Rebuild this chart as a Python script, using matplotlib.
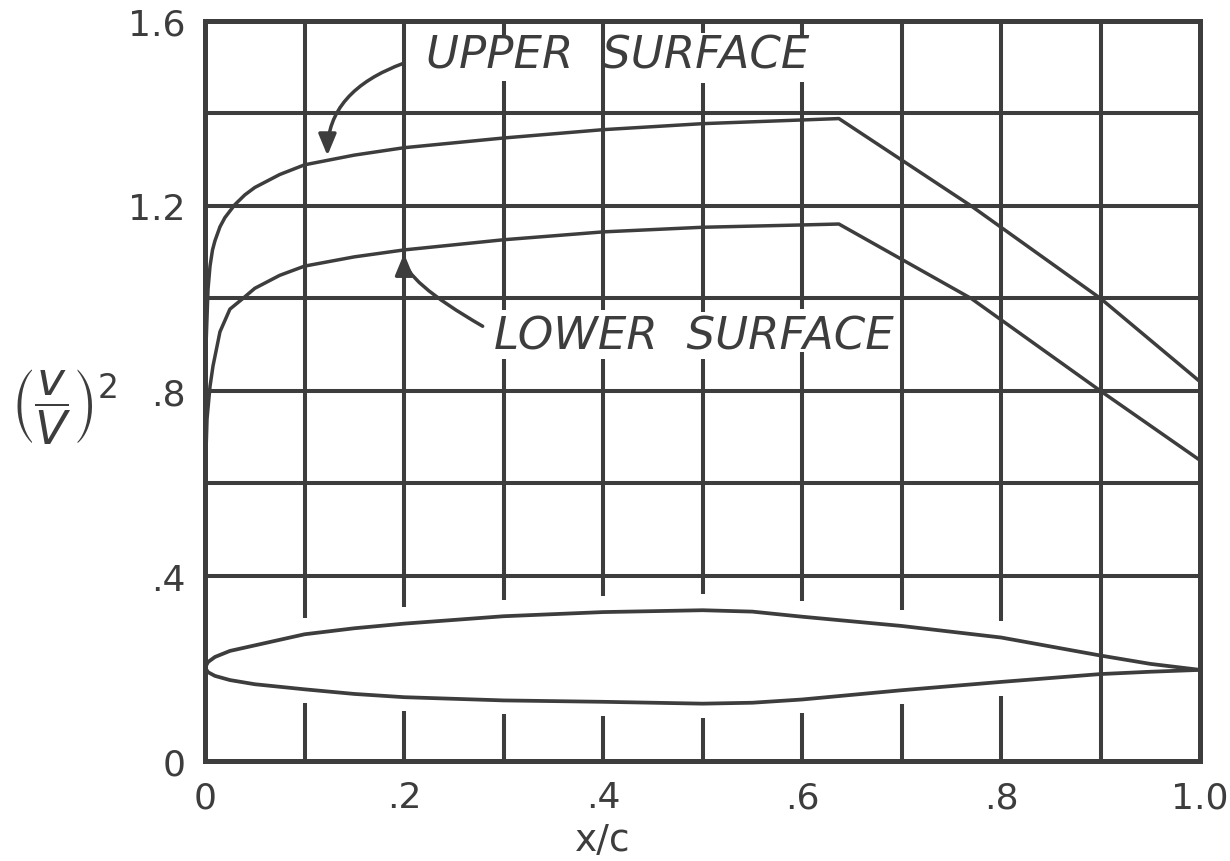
import numpy as np
import matplotlib
matplotlib.use("Agg")
import matplotlib.pyplot as plt

INK = "#3d3d3d"

# airfoil outline (drawn at the bottom of the chart)
foil_x = [0, 0.003, 0.01, 0.025, 0.05, 0.1, 0.15, 0.2, 0.3, 0.4, 0.5, 0.55, 0.6, 0.7, 0.8, 0.9, 0.95, 1.0]
foil_upper = [0.202, 0.214, 0.225, 0.238, 0.250, 0.274, 0.287, 0.297, 0.313, 0.322, 0.326, 0.323,
              0.312, 0.292, 0.267, 0.228, 0.210, 0.197]
foil_lower = [0.202, 0.192, 0.184, 0.175, 0.166, 0.155, 0.145, 0.138, 0.131, 0.128, 0.124, 0.126,
              0.133, 0.153, 0.171, 0.188, 0.193, 0.197]

# (v/V)^2 distributions
up_x = [0, 0.001, 0.003, 0.005, 0.0075, 0.01, 0.015, 0.02, 0.03, 0.04, 0.05, 0.075, 0.1, 0.15,
        0.2, 0.3, 0.4, 0.5, 0.6, 0.637, 0.77, 0.9, 1.0]
up_v = [0.60, 0.90, 1.02, 1.07, 1.105, 1.125, 1.155, 1.175, 1.203, 1.224, 1.240, 1.268, 1.289,
        1.310, 1.326, 1.347, 1.365, 1.378, 1.386, 1.389, 1.200, 1.000, 0.820]
lo_x = [0, 0.002, 0.005, 0.008, 0.015, 0.025, 0.038, 0.05, 0.075, 0.1, 0.15, 0.2, 0.3, 0.4,
        0.5, 0.6, 0.637, 0.77, 0.9, 1.0]
lo_v = [0.60, 0.74, 0.81, 0.854, 0.928, 0.977, 1.000, 1.022, 1.050, 1.070, 1.090, 1.105, 1.127,
        1.144, 1.154, 1.159, 1.161, 1.000, 0.800, 0.650]

xtick_vals = [0, 0.2, 0.4, 0.6, 0.8, 1.0]
xtick_text = ["0", ".2", ".4", ".6", ".8", "1.0"]
ytick_vals = [0, 0.4, 0.8, 1.2, 1.6]
ytick_text = ["0", ".4", ".8", "1.2", "1.6"]

plt.rcParams["font.family"] = ["DejaVu Sans"]
plt.rcParams["mathtext.fontset"] = "dejavusans"

fig = plt.figure(figsize=(12.3, 8.62), dpi=100)
ax = fig.add_axes([0.1667, 0.116, 0.809, 0.8585])
ax.set_xlim(0, 1.0)
ax.set_ylim(0, 1.6)

# grid drawn by hand so the lines can break around the lettering and the airfoil
for yg in [0.4, 0.6, 0.8, 1.0, 1.2, 1.4]:
    ax.axhline(yg, color=INK, lw=2.9, zorder=1)

text_gaps = {0.3: [(1.47, 1.57), (0.87, 0.975)],
             0.4: [(0.87, 0.975)],
             0.5: [(1.465, 1.575), (0.87, 0.97)],
             0.6: [(1.467, 1.568), (0.885, 0.978)]}
for xg in np.round(np.arange(0.1, 0.95, 0.1), 1):
    gaps = list(text_gaps.get(xg, []))
    if xg < 0.85:
        gaps.append((np.interp(xg, foil_x, foil_lower) - 0.03,
                     np.interp(xg, foil_x, foil_upper) + 0.035))
    gaps.sort()
    y0 = 0.0
    for g0, g1 in gaps:
        ax.vlines(xg, y0, g0, color=INK, lw=2.9, zorder=1)
        y0 = g1
    ax.vlines(xg, y0, 1.6, color=INK, lw=2.9, zorder=1)

ax.plot(foil_x, foil_upper, color=INK, lw=2.7, zorder=3)
ax.plot(foil_x, foil_lower, color=INK, lw=2.7, zorder=3)
ax.plot(up_x, up_v, color=INK, lw=2.5, zorder=3, clip_on=False)
ax.plot(lo_x, lo_v, color=INK, lw=2.5, zorder=3, clip_on=False)

ax.text(0.222, 1.526, "UPPER  SURFACE", fontsize=32.5, style="italic",
        color=INK, ha="left", va="center")
ax.text(0.290, 0.919, "LOWER  SURFACE", fontsize=32.5, style="italic",
        color=INK, ha="left", va="center")

arrow = dict(arrowstyle="-|>,head_length=0.65,head_width=0.27", color=INK, lw=2.5,
             mutation_scale=20, shrinkA=0, shrinkB=0)
ax.annotate("", xy=(0.123, 1.309), xytext=(0.2, 1.509),
            arrowprops=dict(arrow, connectionstyle="angle3,angleA=20,angleB=90"))
ax.annotate("", xy=(0.2, 1.097), xytext=(0.279, 0.94),
            arrowprops=dict(arrow, connectionstyle="angle3,angleA=150,angleB=90"))

for s in ax.spines.values():
    s.set_linewidth(3.6)
    s.set_color(INK)
    s.set_zorder(4)

ax.set_xticks(xtick_vals, xtick_text)
ax.set_yticks(ytick_vals, ytick_text)
ax.tick_params(length=0, labelsize=26, colors=INK)
ax.tick_params(axis="x", pad=14)
ax.tick_params(axis="y", pad=14)

ax.text(0.4, -0.107, "x/c", transform=ax.transAxes, fontsize=27, color=INK,
        ha="center", va="center")
ax.text(-0.142, 0.48, r"$\left(\dfrac{v}{V}\right)^{2}$", transform=ax.transAxes, fontsize=34,
        color=INK, ha="center", va="center")

fig.savefig("out.png", dpi=100, facecolor="white")
